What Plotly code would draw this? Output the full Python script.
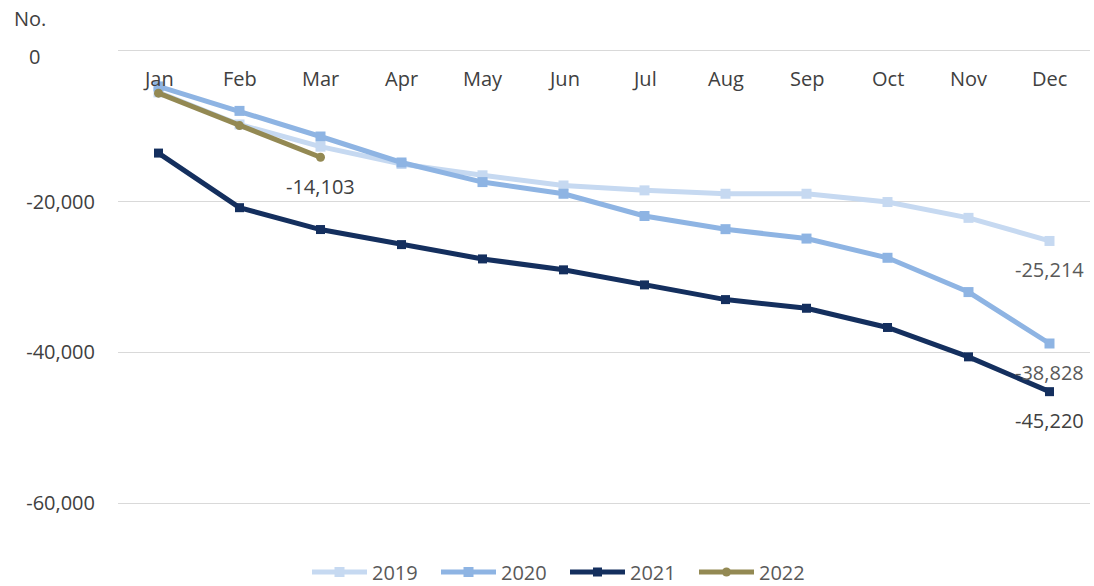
import plotly.graph_objects as go

months = ["Jan", "Feb", "Mar", "Apr", "May", "Jun", "Jul", "Aug", "Sep", "Oct", "Nov", "Dec"]

y2019 = [-5500, -9750, -12700, -15000, -16500, -17850, -18500, -18950, -18950, -20050, -22150, -25214]
y2020 = [-4700, -7950, -11350, -14800, -17400, -18950, -21900, -23650, -24900, -27450, -32000, -38828]
y2021 = [-13550, -20800, -23700, -25700, -27600, -29050, -31050, -33000, -34150, -36700, -40600, -45220]
y2022 = [-5600, -9900, -14103]

series = [
    ("2019", y2019, "#C6D9F1", "square", 10, "#595959"),
    ("2020", y2020, "#8EB4E3", "square", 10, "#595959"),
    ("2021", y2021, "#142F5E", "square", 9, "#404040"),
    ("2022", y2022, "#938953", "circle", 9, "#404040"),
]

yticks = [0, -20000, -40000, -60000]

FONT = "Open Sans"
W, H = 1094, 586
ML, MR, MT, MB = 118, 4, 51, 83
PW, PH = W - ML - MR, H - MT - MB

fig = go.Figure()
annotations = []
for name, vals, color, sym, msize, lblcolor in series:
    xs = months[:len(vals)]
    fig.add_trace(go.Scatter(
        x=xs, y=vals, name=name, mode="lines+markers",
        line=dict(color=color, width=5),
        marker=dict(symbol=sym, size=msize, color=color),
        hoverinfo="skip",
    ))
    annotations.append(dict(
        x=xs[-1], y=vals[-1], xref="x", yref="y",
        text=f"{vals[-1]:,}", showarrow=False,
        yshift=-29, font=dict(family=FONT, size=20, color=lblcolor),
    ))

for m in months:
    annotations.append(dict(
        x=m, y=0, xref="x", yref="y", text=m, showarrow=False,
        yanchor="middle", yshift=-27,
        font=dict(family=FONT, size=20, color="#404040"),
    ))

# zero tick label (sits slightly lower and further left in the reference)
annotations.append(dict(
    x=(42 - ML) / PW, y=yticks[0], xref="paper", yref="y",
    xanchor="right", yanchor="middle", yshift=-5,
    text=f"{yticks[0]:,}", showarrow=False,
    font=dict(family=FONT, size=20, color="#404040"),
))

annotations.append(dict(
    x=(30 - ML) / PW, y=(H - MB - 18) / PH, xref="paper", yref="paper",
    xanchor="center", yanchor="middle",
    text="No.", showarrow=False,
    font=dict(family=FONT, size=20, color="#404040"),
))

ticktext = ["" if v == 0 else f"{v:,}" for v in yticks]

fig.update_layout(
    width=W, height=H,
    margin=dict(l=ML, r=MR, t=MT, b=MB, autoexpand=False),
    paper_bgcolor="white", plot_bgcolor="white",
    font=dict(family=FONT, size=20, color="#404040"),
    xaxis=dict(
        categoryorder="array", categoryarray=months,
        range=[-0.5, 11.5], showticklabels=False, showgrid=False,
        zeroline=False, showline=True, mirror=True, linecolor="#D9D9D9", linewidth=1,
        ticks="", automargin=False,
    ),
    yaxis=dict(
        range=[-60000, 0], tickvals=yticks, ticktext=ticktext,
        showgrid=True, gridcolor="#D9D9D9", gridwidth=1,
        zeroline=False, showline=False, ticks="",
        ticklabelstandoff=22, automargin=False,
        tickfont=dict(family=FONT, size=20, color="#404040"),
    ),
    legend=dict(
        orientation="h", xref="container", yref="container",
        x=307 / W, xanchor="left", y=1 - 572 / H, yanchor="middle",
        font=dict(family=FONT, size=20, color="#595959"),
        itemwidth=55, entrywidth=59, entrywidthmode="pixels",
        traceorder="normal",
    ),
    showlegend=True,
    annotations=annotations,
)
fig.write_html(
    "out.html",
    config={"displayModeBar": False, "staticPlot": True},
    post_script="document.body.style.margin='0';",
)
